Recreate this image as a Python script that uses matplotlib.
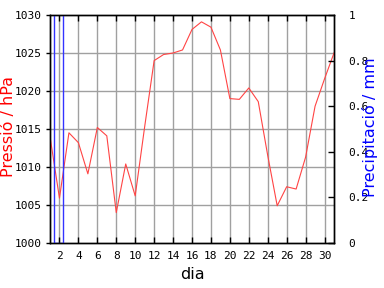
import matplotlib
matplotlib.use("Agg")
import matplotlib.pyplot as plt

# Data
days = list(range(1, 32))
pressure = [1014.0, 1005.9, 1014.5, 1013.2, 1009.1, 1015.2, 1014.1, 1004.0, 1010.4, 1006.2,
            1015.3, 1024.0, 1024.8, 1025.0, 1025.4, 1028.1, 1029.1, 1028.4, 1025.4, 1019.0,
            1018.9, 1020.4, 1018.6, 1011.5, 1004.9, 1007.4, 1007.1, 1011.3, 1018.0, 1021.6,
            1025.0]
precip_days = [1.94]
precip_vals = [1.3]
x_ticks = list(range(2, 31, 2))
p_ticks = list(range(1000, 1031, 5))
r_ticks = [0, 0.2, 0.4, 0.6, 0.8, 1.0]
r_labels = ['0', '0.2', '0.4', '0.6', '0.8', '1']

fig = plt.figure(figsize=(3.84, 2.88), dpi=100)
ax = fig.add_axes([50/384, 45/288, 284/384, 228/288])
ax2 = ax.twinx()

grid_c = '#a0a0a0'
for d in x_ticks:
    ax.axvline(d, color=grid_c, lw=1, zorder=0)
for p in p_ticks[1:-1]:
    ax.axhline(p, color=grid_c, lw=1, zorder=0)

ax.plot(days, pressure, color='#ff4444', lw=0.8, zorder=3)
ax.set_xlim(1, 31)
ax.set_ylim(1000, 1030)

ax2.bar(precip_days, precip_vals, width=0.97, fill=False, edgecolor='#3333ff', lw=1)
ax2.set_ylim(0, 1)

mono = 'DejaVu Sans Mono'
ax.set_xticks(x_ticks)
ax.set_xticklabels([str(d) for d in x_ticks], family=mono, fontsize=8)
ax.set_yticks(p_ticks)
ax.set_yticklabels([str(p) for p in p_ticks], family=mono, fontsize=8)
ax.tick_params(axis='x', direction='in', length=4, width=1, top=True, pad=6)
ax.tick_params(axis='y', direction='out', length=3, width=1, pad=3)
ax2.set_yticks(r_ticks)
ax2.set_yticklabels(r_labels, family=mono, fontsize=8)
ax2.tick_params(axis='y', direction='in', length=4, width=1, pad=10.5)

for a in (ax, ax2):
    for s in a.spines.values():
        s.set_linewidth(1)
        s.set_color('black')

ax.set_xlabel('dia', fontsize=11.5, labelpad=4)
ax.set_ylabel('Pressió / hPa', color='red', fontsize=11.5)
ax2.set_ylabel('Precipitació / mm', color='blue', fontsize=11.5)
ax.yaxis.set_label_coords(-0.12, 0.513)
ax2.yaxis.set_label_coords(1.1, 0.509)

fig.savefig('out.png', dpi=100)
